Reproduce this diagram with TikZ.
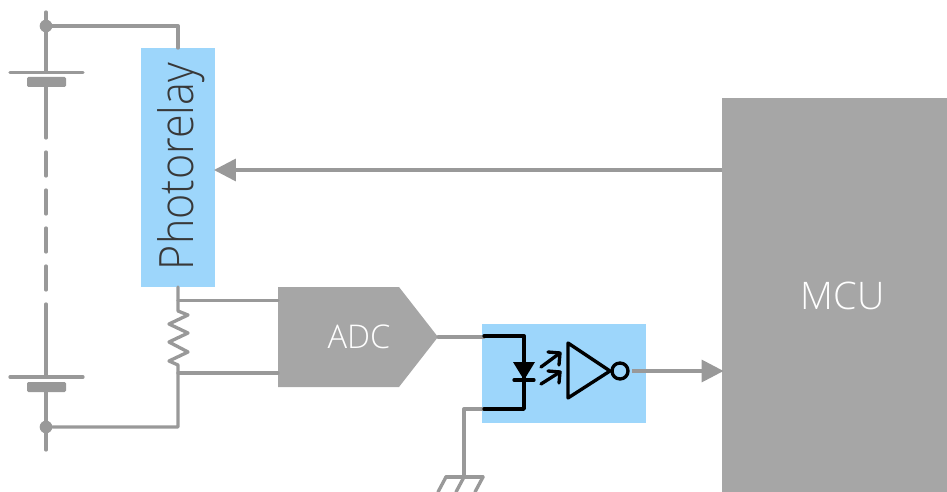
\documentclass[tikz,border=0pt]{standalone}
\usepackage{fontspec}
\setmainfont{Open Sans}[UprightFont=* Light]
\definecolor{wire}{HTML}{999999}
\definecolor{blk}{HTML}{A6A6A6}
\definecolor{sky}{HTML}{9DD6FB}
\definecolor{txt}{HTML}{383838}
\usetikzlibrary{arrows.meta}
\tikzset{
  wireline/.style={draw=wire,line width=2.5pt,line join=round,line cap=round},
  arrowline/.style={draw=wire,line width=2.5pt,-{Triangle[length=16.5pt,width=16.5pt,sep=-1.2pt]}},
  plate/.style={fill=wire,draw=none,rounded corners=1pt},
  dotnode/.style={circle,fill=wire,draw=none,inner sep=0pt,minimum size=9.5pt},
  sym/.style={draw=black,line width=2.5pt,line join=round,line cap=round},
}
\begin{document}
\begin{tikzpicture}[x=0.75pt,y=-0.75pt]
\useasboundingbox (0,0) rectangle (947,492);
% blocks
\node[fill=sky,minimum width=55.5pt,minimum height=179.25pt,inner sep=0pt,anchor=north west] (relay) at (141,48) {};
\node[rotate=90,xscale=.91,text=txt,font=\fontsize{35.5}{38}\selectfont] (relaytext) at (181,166.5) {Photorelay};
\node[fill=blk,minimum width=168.75pt,minimum height=295pt,inner sep=0pt,anchor=north west] (mcu) at (722,98) {};
\node[text=white,font=\fontsize{28.5}{32}\selectfont] (mcutext) at (842.5,295.5) {MCU};
\node[fill=sky,minimum width=123pt,minimum height=74.25pt,inner sep=0pt,anchor=north west] (iso) at (482,324) {};
\fill[blk] (278,287) -- (399,287) -- (438,337) -- (399,387) -- (278,387) -- cycle;
\node[text=white,font=\fontsize{24.5}{27}\selectfont] (adc) at (359,337) {ADC};
% coordinates
\coordinate (top) at (46,12);
\coordinate (topdot) at (46,26);
\coordinate (botdot) at (46,427);
\coordinate (bot) at (46,450);
% left rail
\draw[wireline] (top) -- (46,72);
\draw[wireline] (46,87) -- (46,138);
\draw[wireline] (46,152) -- (46,176);
\draw[wireline] (46,190) -- (46,214);
\draw[wireline] (46,228) -- (46,252);
\draw[wireline] (46,266) -- (46,290);
\draw[wireline] (46,304) -- (46,377);
\draw[wireline] (46,390) -- (bot);
\draw[wireline] (10,72.5) -- (83,72.5);
\draw[wireline] (10,377) -- (83,377);
\fill[plate] (27,77) rectangle (66,87);
\fill[plate] (27,382) rectangle (66,392);
\node[dotnode] (d1) at (topdot) {};
\node[dotnode] (d2) at (botdot) {};
% upper wires
\draw[wireline] (d1) -- (178,26) -- (178,48);
\draw[wireline] (d2) -- (178,427) -- (178,365) -- (169,361) -- (188,352) -- (169,342) -- (188,333) -- (169,324) -- (188,315) -- (178,311) -- (178,287);
\draw[wireline] (178,300.5) -- (278,300.5);
\draw[wireline] (178,373) -- (278,373);
% arrow to relay
\draw[arrowline] (mcu.west |- 0,170) -- (relay.east |- 0,170);
% output arrow
\draw[arrowline] (632,371) -- (mcu.west |- 0,371);
% ADC to iso
\draw[wireline] (438,337) -- (484,337);
\draw[wireline] (484,409) -- (464,409) -- (464,477);
% ground
\draw[wireline] (446,477) -- (483,477);
\draw[wireline] (446,477) -- (438,492);
\draw[wireline] (464,477) -- (456,492);
\draw[wireline] (483,477) -- (475,492);
% iso symbols
\draw[sym] (484,336) -- (524,336) -- (524,409) -- (484,409);
\fill[black] (513,362) -- (535,362) -- (524,380) -- cycle;
\draw[sym] (514,380) -- (534,380);
\draw[sym] (541,367) -- (560,353);
\draw[sym] (548,352) -- (560,353) -- (559,365);
\draw[sym] (541,384) -- (560,372);
\draw[sym] (548,371) -- (560,372) -- (559,383);
\draw[sym] (568,343) -- (568,398) -- (610,371) -- cycle;
\draw[sym] (620,371) circle (8);
\end{tikzpicture}
\end{document}
